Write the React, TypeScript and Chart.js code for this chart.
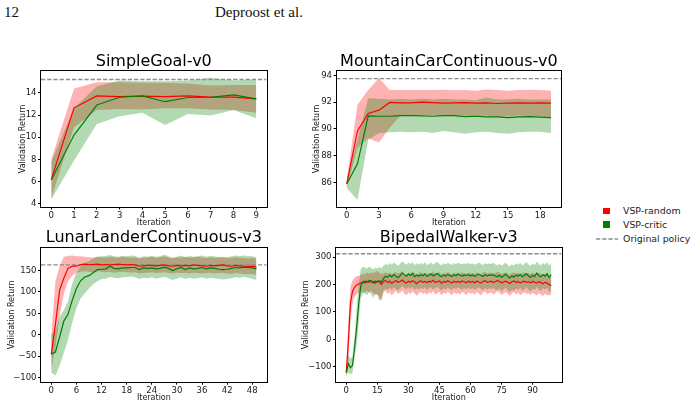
import { useEffect, useRef } from "react";
import { Chart, registerables } from "chart.js";

Chart.register(...registerables);

const FONT = "'DejaVu Sans', sans-serif";
const RED = "#ff0000";
const GREEN = "#008000";
const RED_FILL = "rgba(255, 0, 0, 0.3)";
const GREEN_FILL = "rgba(0, 128, 0, 0.3)";
const BASELINE_COLOR = "#8c8c8c";

// ---------- SimpleGoal-v0 ----------
const sgRandomMean = [6.18, 12.65, 13.72, 13.65, 13.7, 13.65, 13.72, 13.62, 13.62, 13.45];
const sgRandomLow = [4.5, 10.9, 12.45, 12.55, 12.5, 12.6, 12.6, 12.5, 12.45, 12.2];
const sgRandomHigh = [8.0, 14.4, 14.95, 14.95, 14.9, 14.9, 14.85, 14.65, 14.7, 14.7];
const sgCriticMean = [6.15, 10.2, 12.9, 13.6, 13.72, 13.2, 13.58, 13.6, 13.82, 13.45];
const sgCriticLow = [4.4, 7.9, 11.2, 11.9, 12.2, 11.1, 12.1, 11.95, 12.45, 11.7];
const sgCriticHigh = [7.8, 12.6, 14.6, 15.1, 15.05, 15.05, 15.1, 15.35, 15.1, 15.2];
const sgOriginal = 15.2;
const sgXTicks = [0, 1, 2, 3, 4, 5, 6, 7, 8, 9];
const sgYTicks = [4, 6, 8, 10, 12, 14];

// ---------- MountainCarContinuous-v0 ----------
const mcRandomMean = [85.9, 89.85, 91.15, 91.4, 91.98, 91.95, 91.95, 92.0, 91.97, 91.93, 91.95, 91.96, 91.92, 91.95, 91.9, 91.93, 91.95, 91.92, 91.94, 91.92];
const mcRandomLow = [85.6, 88.6, 89.3, 89.0, 90.1, 91.0, 91.0, 91.05, 91.0, 90.95, 91.0, 91.0, 90.95, 91.0, 90.9, 90.95, 91.0, 90.95, 90.95, 90.9];
const mcRandomHigh = [86.2, 91.8, 92.9, 93.8, 92.9, 92.9, 92.9, 92.9, 92.9, 92.92, 92.88, 92.9, 92.85, 92.95, 92.9, 92.85, 92.9, 92.92, 92.9, 92.85];
const mcCriticMean = [85.9, 87.4, 90.98, 90.95, 90.95, 91.0, 91.0, 90.98, 90.95, 91.0, 91.0, 90.92, 90.95, 90.9, 90.9, 90.85, 90.9, 90.92, 90.88, 90.85];
const mcCriticLow = [85.6, 84.7, 89.2, 89.7, 89.75, 89.8, 89.75, 89.8, 89.7, 89.85, 89.75, 89.65, 89.75, 89.8, 89.7, 89.65, 89.75, 89.8, 89.8, 89.7];
const mcCriticHigh = [86.2, 89.2, 92.3, 92.25, 92.2, 92.25, 92.2, 92.25, 92.2, 92.25, 92.2, 92.2, 92.15, 92.35, 92.2, 92.2, 92.25, 92.2, 92.2, 92.2];
const mcOriginal = 93.75;
const mcXTicks = [0, 3, 6, 9, 12, 15, 18];
const mcYTicks = [86, 88, 90, 92, 94];

// ---------- LunarLanderContinuous-v3 ----------
const llRandomMean = [-45, 25, 105, 132, 155, 160, 160, 164, 165, 164, 164, 165, 163, 164, 163, 164, 165, 164, 163, 164, 163, 160, 161, 162, 162, 161, 162, 163, 161, 160, 162, 161, 162, 161, 163, 162, 161, 160, 162, 161, 162, 163, 161, 160, 162, 161, 160, 159, 160, 158];
const llRandomLow = [-82, -30, 45, 95, 125, 138, 145, 147, 148, 147, 146, 148, 147, 146, 147, 145, 146, 147, 146, 145, 146, 143, 144, 145, 146, 144, 145, 146, 144, 143, 145, 144, 145, 143, 145, 144, 143, 144, 145, 143, 144, 145, 143, 142, 144, 143, 142, 141, 142, 140];
const llRandomHigh = [0, 125, 160, 182, 184, 185, 183, 183, 182, 181, 180, 182, 181, 180, 182, 181, 180, 182, 181, 180, 181, 178, 180, 181, 182, 180, 181, 183, 180, 179, 181, 180, 182, 180, 181, 182, 180, 179, 181, 180, 181, 182, 180, 179, 181, 180, 179, 178, 180, 177];
const llCriticMean = [-45, -40, -5, 32, 48, 80, 108, 126, 135, 138, 145, 152, 153, 154, 160, 155, 154, 156, 156, 157, 157, 152, 156, 155, 156, 154, 155, 158, 155, 150, 154, 157, 152, 156, 154, 155, 157, 154, 156, 155, 153, 152, 153, 155, 157, 156, 158, 157, 156, 154];
const llCriticLow = [-88, -95, -72, -42, -12, 28, 62, 85, 97, 108, 118, 125, 130, 131, 135, 133, 132, 134, 135, 136, 134, 130, 133, 132, 134, 131, 133, 135, 132, 128, 131, 134, 130, 133, 131, 132, 134, 131, 133, 132, 130, 129, 130, 132, 134, 133, 135, 133, 130, 128];
const llCriticHigh = [0, 10, 42, 58, 78, 120, 145, 160, 168, 172, 178, 182, 183, 184, 186, 183, 182, 184, 183, 185, 184, 180, 183, 182, 184, 182, 183, 187, 183, 179, 182, 185, 181, 184, 182, 183, 185, 182, 184, 183, 181, 180, 181, 183, 185, 184, 185, 184, 183, 181];
const llOriginal = 163;
const llXTicks = [0, 6, 12, 18, 24, 30, 36, 42, 48];
const llYTicks = [-100, -50, 0, 50, 100, 150];

// ---------- BipedalWalker-v3 ----------
const bwRandomMean = [
  -120, -10, 130, 175, 190, 198, 202, 205, 208, 206,
  212, 208, 214, 210, 205, 212, 209, 200, 211, 215,
  207, 212, 204, 210, 214, 208, 211, 216, 209, 205,
  212, 208, 214, 210, 203, 210, 213, 208, 211, 206,
  212, 209, 215, 207, 210, 213, 205, 211, 208, 214,
  209, 205, 212, 208, 211, 207, 213, 210, 206, 212,
  208, 211, 206, 213, 209, 205, 211, 214, 208, 210,
  212, 207, 210, 215, 211, 206, 209, 212, 208, 204,
  210, 213, 207, 211, 205, 209, 212, 208, 210, 206,
  211, 208, 205, 210, 207, 203, 208, 205, 200, 196,
];
const bwRandomLow = [
  -138, -85, 60, 130, 155, 165, 170, 172, 175, 170,
  178, 172, 176, 170, 160, 165, 155, 140, 170, 178,
  165, 172, 160, 170, 176, 166, 170, 178, 168, 160,
  172, 165, 175, 168, 158, 168, 174, 165, 170, 162,
  172, 166, 176, 164, 168, 174, 160, 170, 165, 175,
  168, 160, 172, 165, 170, 163, 174, 168, 160, 172,
  166, 170, 162, 174, 167, 160, 170, 175, 165, 168,
  172, 164, 168, 176, 170, 162, 167, 172, 165, 158,
  168, 173, 164, 170, 160, 167, 172, 165, 168, 162,
  170, 165, 160, 168, 164, 158, 166, 162, 160, 165,
];
const bwRandomHigh = [
  -105, 60, 190, 215, 225, 230, 232, 234, 240, 236,
  245, 238, 244, 242, 245, 250, 242, 238, 240, 245,
  240, 243, 238, 242, 246, 240, 242, 248, 240, 236,
  244, 240, 246, 242, 236, 242, 245, 240, 243, 238,
  244, 241, 247, 239, 242, 245, 237, 243, 240, 246,
  241, 237, 244, 240, 243, 239, 245, 242, 238, 244,
  240, 243, 238, 245, 241, 237, 243, 246, 240, 242,
  244, 239, 242, 247, 243, 238, 241, 244, 240, 236,
  242, 245, 239, 243, 237, 241, 244, 240, 242, 238,
  243, 240, 237, 242, 239, 235, 240, 237, 232, 226,
];
const bwCriticMean = [
  -122, -88, -103, -95, -33, 41, 127, 195, 210, 212,
  208, 215, 211, 206, 213, 210, 214, 209, 222, 230,
  226, 234, 228, 236, 230, 225, 232, 242, 236, 230,
  238, 233, 240, 228, 235, 230, 236, 232, 239, 229,
  234, 238, 231, 236, 240, 233, 228, 235, 231, 237,
  233, 229, 236, 232, 238, 234, 231, 235, 233, 236,
  232, 235, 230, 234, 238, 233, 229, 236, 232, 235,
  233, 236, 231, 228, 234, 226, 232, 238, 229, 224,
  232, 227, 235, 230, 237, 228, 233, 240, 231, 226,
  234, 229, 242, 232, 228, 236, 230, 240, 226, 236,
];
const bwCriticLow = [
  -135, -120, -128, -122, -70, -20, 60, 150, 165, 170,
  160, 172, 165, 150, 168, 162, 140, 150, 178, 185,
  180, 188, 182, 190, 184, 178, 186, 195, 188, 182,
  190, 184, 192, 180, 186, 182, 188, 184, 190, 180,
  186, 190, 182, 187, 192, 184, 178, 186, 182, 188,
  184, 180, 188, 183, 190, 185, 181, 186, 184, 187,
  183, 186, 181, 185, 190, 184, 179, 187, 182, 186,
  184, 188, 182, 178, 185, 176, 182, 189, 179, 172,
  182, 176, 186, 180, 188, 178, 183, 191, 181, 175,
  185, 179, 192, 182, 176, 187, 180, 190, 172, 182,
];
const bwCriticHigh = [
  -108, -55, -70, -60, 10, 110, 200, 255, 265, 262,
  258, 266, 260, 255, 262, 258, 265, 258, 268, 275,
  270, 278, 272, 280, 274, 268, 276, 285, 278, 272,
  280, 275, 282, 270, 277, 272, 278, 274, 281, 270,
  276, 280, 272, 278, 283, 275, 270, 277, 273, 279,
  275, 271, 278, 274, 280, 276, 273, 277, 275, 278,
  274, 277, 272, 276, 280, 275, 271, 278, 274, 277,
  275, 279, 273, 270, 276, 268, 274, 280, 271, 266,
  274, 269, 277, 272, 279, 270, 275, 282, 273, 268,
  276, 271, 284, 274, 270, 278, 272, 282, 268, 278,
];
const bwOriginal = 312;
const bwXTicks = [0, 15, 30, 45, 60, 75, 90];
const bwYTicks = [-100, 0, 100, 200, 300];

type Series = { mean: number[]; low: number[]; high: number[] };
type Rect = { left: number; top: number; width: number; height: number };
type Box = { left: number; top: number; right: number; bottom: number };

type PanelProps = {
  title: string;
  random: Series;
  critic: Series;
  original: number;
  xMin: number;
  xMax: number;
  xTicks: number[];
  yMin: number;
  yMax: number;
  yTicks: number[];
  frame: Rect;
  box: Box;
  titleY: number;
  ylabelX: number;
  xlabelY: number;
};

const fmt = (v: number) => (v < 0 ? "\u2212" + Math.abs(v) : String(v));

// Draws all four spines around the plotting area.
const framePlugin = {
  id: "axesFrame",
  afterDraw(chart: Chart) {
    const { ctx, chartArea } = chart;
    ctx.save();
    ctx.strokeStyle = "#000";
    ctx.lineWidth = 1;
    const l = Math.round(chartArea.left) - 0.5;
    const t = Math.round(chartArea.top) - 0.5;
    const r = Math.round(chartArea.right) + 0.5;
    const b = Math.round(chartArea.bottom) + 0.5;
    ctx.strokeRect(l, t, r - l, b - t);
    ctx.restore();
  },
};

function Panel(p: PanelProps) {
  const ref = useRef<HTMLCanvasElement>(null);

  useEffect(() => {
    const canvas = ref.current;
    if (!canvas) return;
    const { frame, box } = p;
    const tickFont = { family: FONT, size: 8.5, lineHeight: 1.2 };
    const labelFont = { family: FONT, size: 8, lineHeight: 1.2 };
    const titleFont = { family: FONT, size: 16, lineHeight: 1.2, weight: "normal" as const };
    const labelHalf = 4.8;
    const titleHalf = 9.6;

    const padLeft = p.ylabelX - frame.left - labelHalf;
    const yWidth = box.left - frame.left - padLeft;
    const padRight = frame.left + frame.width - box.right;
    const titlePadTop = p.titleY - frame.top - titleHalf;
    const titlePadBottom = box.top - p.titleY - titleHalf;
    const xHeight = p.xlabelY + labelHalf - box.bottom;
    const padBottom = frame.top + frame.height - (p.xlabelY + labelHalf);

    const pts = (ys: number[]) => ys.map((y, i) => ({ x: i, y }));
    const band = { borderColor: "transparent", borderWidth: 0, pointRadius: 0, tension: 0 };

    const chart = new Chart(canvas, {
      type: "line",
      data: {
        datasets: [
          { ...band, data: pts(p.random.high), fill: "+1", backgroundColor: RED_FILL, order: 4 },
          { ...band, data: pts(p.random.low), fill: false, order: 4 },
          { ...band, data: pts(p.critic.high), fill: "+1", backgroundColor: GREEN_FILL, order: 3 },
          { ...band, data: pts(p.critic.low), fill: false, order: 3 },
          {
            data: [
              { x: p.xMin, y: p.original },
              { x: p.xMax, y: p.original },
            ],
            borderColor: BASELINE_COLOR,
            borderWidth: 1.3,
            borderDash: [4.3, 1.9],
            pointRadius: 0,
            fill: false,
            order: 2,
          },
          { data: pts(p.random.mean), borderColor: RED, borderWidth: 1.2, pointRadius: 0, fill: false, tension: 0, order: 1 },
          { data: pts(p.critic.mean), borderColor: GREEN, borderWidth: 1.2, pointRadius: 0, fill: false, tension: 0, order: 0 },
        ],
      },
      options: {
        animation: false,
        responsive: false,
        maintainAspectRatio: false,
        events: [],
        layout: { padding: { left: padLeft, right: padRight, top: 0, bottom: padBottom } },
        plugins: {
          legend: { display: false },
          tooltip: { enabled: false },
          title: {
            display: true,
            text: p.title,
            color: "#000",
            font: titleFont,
            fullSize: false,
            padding: { top: titlePadTop, bottom: titlePadBottom },
          },
        },
        scales: {
          x: {
            type: "linear",
            min: p.xMin,
            max: p.xMax,
            afterBuildTicks: (s: any) => {
              s.ticks = p.xTicks.map((v) => ({ value: v }));
            },
            afterFit: (s: any) => {
              s.height = xHeight;
            },
            grid: { drawOnChartArea: false, drawTicks: true, tickLength: 3, color: "#000", lineWidth: 1 },
            border: { display: false },
            ticks: { font: tickFont, color: "#1a1a1a", padding: 1, maxRotation: 0, autoSkip: false, callback: (v: any) => fmt(Number(v)) },
            title: { display: true, text: "Iteration", font: labelFont, color: "#1a1a1a", padding: 0 },
          },
          y: {
            type: "linear",
            min: p.yMin,
            max: p.yMax,
            afterBuildTicks: (s: any) => {
              s.ticks = p.yTicks.map((v) => ({ value: v }));
            },
            afterFit: (s: any) => {
              s.width = yWidth;
            },
            grid: { drawOnChartArea: false, drawTicks: true, tickLength: 3, color: "#000", lineWidth: 1 },
            border: { display: false },
            ticks: { font: tickFont, color: "#1a1a1a", padding: 1.5, autoSkip: false, callback: (v: any) => fmt(Number(v)) },
            title: { display: true, text: "Validation Return", font: labelFont, color: "#1a1a1a", padding: 0 },
          },
        },
      },
      plugins: [framePlugin],
    } as any);

    return () => chart.destroy();
  }, [p]);

  return (
    <canvas
      ref={ref}
      width={p.frame.width}
      height={p.frame.height}
      style={{
        position: "absolute",
        left: p.frame.left,
        top: p.frame.top,
        width: p.frame.width,
        height: p.frame.height,
      }}
    />
  );
}

const panels: PanelProps[] = [
  {
    title: "SimpleGoal-v0",
    random: { mean: sgRandomMean, low: sgRandomLow, high: sgRandomHigh },
    critic: { mean: sgCriticMean, low: sgCriticLow, high: sgCriticHigh },
    original: sgOriginal,
    xMin: -0.45, xMax: 9.45, xTicks: sgXTicks,
    yMin: 3.76, yMax: 15.94, yTicks: sgYTicks,
    frame: { left: 0, top: 40, width: 285, height: 188 },
    box: { left: 41, top: 71.3, right: 266.5, bottom: 206.5 },
    titleY: 61.5, ylabelX: 22.7, xlabelY: 222.5,
  },
  {
    title: "MountainCarContinuous-v0",
    random: { mean: mcRandomMean, low: mcRandomLow, high: mcRandomHigh },
    critic: { mean: mcCriticMean, low: mcCriticLow, high: mcCriticHigh },
    original: mcOriginal,
    xMin: -0.95, xMax: 19.95, xTicks: mcXTicks,
    yMin: 84.22, yMax: 94.3, yTicks: mcYTicks,
    frame: { left: 290, top: 40, width: 285, height: 188 },
    box: { left: 336.5, top: 71.3, right: 561.2, bottom: 206.5 },
    titleY: 61.5, ylabelX: 316.7, xlabelY: 222.5,
  },
  {
    title: "LunarLanderContinuous-v3",
    random: { mean: llRandomMean, low: llRandomLow, high: llRandomHigh },
    critic: { mean: llCriticMean, low: llCriticLow, high: llCriticHigh },
    original: llOriginal,
    xMin: -2.45, xMax: 51.45, xTicks: llXTicks,
    yMin: -109.3, yMax: 202.5, yTicks: llYTicks,
    frame: { left: 0, top: 228, width: 285, height: 179 },
    box: { left: 41, top: 248, right: 266.7, bottom: 381.7 },
    titleY: 238.2, ylabelX: 11.7, xlabelY: 397.7,
  },
  {
    title: "BipedalWalker-v3",
    random: { mean: bwRandomMean, low: bwRandomLow, high: bwRandomHigh },
    critic: { mean: bwCriticMean, low: bwCriticLow, high: bwCriticHigh },
    original: bwOriginal,
    xMin: -4.95, xMax: 103.95, xTicks: bwXTicks,
    yMin: -154, yMax: 333, yTicks: bwYTicks,
    frame: { left: 290, top: 228, width: 285, height: 179 },
    box: { left: 336, top: 248, right: 561.5, bottom: 381.7 },
    titleY: 238.2, ylabelX: 306, xlabelY: 397.7,
  },
];

const legendText = {
  position: "absolute" as const,
  left: 623,
  height: 12,
  lineHeight: "12px",
  fontFamily: FONT,
  fontSize: 9.4,
  color: "#222",
  whiteSpace: "nowrap" as const,
};

export default function App() {
  return (
    <div
      style={{
        position: "absolute",
        left: 0,
        top: 0,
        width: 698,
        height: 407,
        background: "#fff",
        overflow: "hidden",
      }}
    >
      <div style={{ position: "absolute", left: 4, top: 4, fontFamily: "'Liberation Serif', serif", fontSize: 15, lineHeight: "16px", color: "#111" }}>
        12
      </div>
      <div style={{ position: "absolute", left: 215, top: 4, fontFamily: "'Liberation Serif', serif", fontSize: 15, lineHeight: "16px", color: "#111" }}>
        Deproost et al.
      </div>

      {panels.map((p) => (
        <Panel key={p.title} {...p} />
      ))}

      <div style={{ position: "absolute", left: 603, top: 207.5, width: 6.5, height: 6.5, background: RED }} />
      <div style={{ ...legendText, top: 205 }}>VSP-random</div>
      <div style={{ position: "absolute", left: 603, top: 221, width: 6.5, height: 6.5, background: GREEN }} />
      <div style={{ ...legendText, top: 218.5 }}>VSP-critic</div>
      <svg style={{ position: "absolute", left: 594, top: 234 }} width={26} height={10}>
        <line x1={2} y1={5} x2={24} y2={5} stroke={BASELINE_COLOR} strokeWidth={1.3} strokeDasharray="4.3 1.9" />
      </svg>
      <div style={{ ...legendText, top: 233 }}>Original policy</div>
    </div>
  );
}
